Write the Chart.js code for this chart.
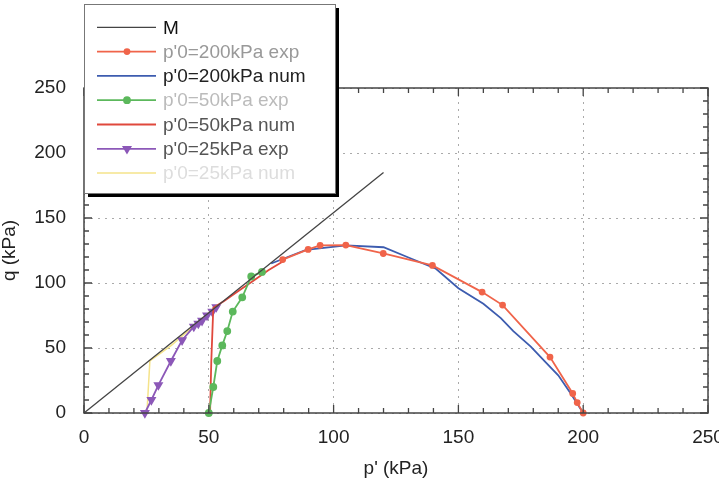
<!DOCTYPE html>
<html>
<head>
<meta charset="utf-8">
<script src="https://cdn.jsdelivr.net/npm/chart.js@4/dist/chart.umd.min.js"></script>
<style>
  body { margin: 0; background: #fff; }
  #wrap { width: 719px; height: 480px; }
</style>
</head>
<body>
<div id="wrap"><canvas id="c"></canvas></div>
<script>
// critical state line
const mP = [0, 120];
const mQ = [0, 185];

// p'0 = 200 kPa
const exp200P = [200, 197.6, 195.8, 186.7, 167.7, 159.5, 139.6, 119.9, 104.9, 94.6, 89.8, 79.6];
const exp200Q = [0, 8, 15, 43, 83, 93, 113.5, 122.7, 129.2, 129, 125.8, 118];
const num200P = [200, 195, 190, 185, 179, 172, 167, 160, 150, 141, 130, 120, 105, 89, 75];
const num200Q = [0, 15, 29, 39, 51, 63, 73, 84, 96, 111, 119.6, 127.5, 129, 125.5, 115];

// p'0 = 50 kPa
const exp50P = [50, 51.8, 53.4, 55.4, 57.4, 59.6, 63.4, 67, 71.3];
const exp50Q = [0, 20, 40, 52, 63, 78, 89, 105, 108.5];
const num50P = [50.5, 51, 51.8, 56, 62, 68, 74, 80];
const num50Q = [0, 40, 81, 86, 94, 102, 110, 117];

// p'0 = 25 kPa
const exp25P = [24.4, 27, 29.8, 34.8, 39.3, 44, 45.8, 47.3, 49.3, 51.4, 53];
const exp25Q = [0, 10, 21.5, 40, 56, 66.5, 68.8, 71, 75, 78, 81.5];
const num25P = [25.2, 26.4, 35, 44, 53];
const num25Q = [0, 40, 52, 67, 82.5];

const xTicks = [0, 50, 100, 150, 200, 250];
const yTicks = [0, 50, 100, 150, 200, 250];

const legendColors = ['#111', '#999', '#222', '#bbb', '#555', '#555', '#ddd'];

function pts(px, py) { return px.map((v, i) => ({ x: v, y: py[i] })); }

const FONT = 'Liberation Sans, Arial, sans-serif';
const FSIZE = 19;

const datasets = [
  { label: 'M', data: pts(mP, mQ), borderColor: '#444', borderWidth: 1.3, pointRadius: 0 },
  { label: "p'0=200kPa exp", data: pts(exp200P, exp200Q), borderColor: '#f0644a', backgroundColor: '#f0644a',
    borderWidth: 1.8, pointRadius: 2.5, pointStyle: 'circle' },
  { label: "p'0=200kPa num", data: pts(num200P, num200Q), borderColor: '#3d5caf', borderWidth: 1.8, pointRadius: 0 },
  { label: "p'0=50kPa exp", data: pts(exp50P, exp50Q), borderColor: '#5cb85c', backgroundColor: '#5cb85c',
    borderWidth: 1.8, pointRadius: 3, pointStyle: 'circle' },
  { label: "p'0=50kPa num", data: pts(num50P, num50Q), borderColor: '#e0483c', borderWidth: 1.8, pointRadius: 0 },
  { label: "p'0=25kPa exp", data: pts(exp25P, exp25Q), borderColor: '#8c58b8', backgroundColor: '#8c58b8',
    borderWidth: 1.8, pointRadius: 4, pointStyle: 'triangle', rotation: 180 },
  { label: "p'0=25kPa num", data: pts(num25P, num25Q), borderColor: '#f5e38a', borderWidth: 1.5, pointRadius: 0 }
];
datasets.forEach(d => { d.showLine = true; d.tension = 0; d.fill = false; d.clip = false; });

// frame, inward ticks on every side, minor ticks, boxed legend
const framePlugin = {
  id: 'frame',
  afterDatasetsDraw(chart) {
    const { ctx, chartArea: a, scales } = chart;
    ctx.save();
    ctx.strokeStyle = '#444';
    ctx.lineWidth = 1.3;
    for (let v = 0; v <= 250; v += 10) {
      const len = v % 50 === 0 ? 8 : 5;
      const x = scales.x.getPixelForValue(v);
      ctx.beginPath();
      ctx.moveTo(x, a.bottom); ctx.lineTo(x, a.bottom - len);
      ctx.moveTo(x, a.top); ctx.lineTo(x, a.top + len);
      const y = scales.y.getPixelForValue(v);
      ctx.moveTo(a.left, y); ctx.lineTo(a.left + len, y);
      ctx.moveTo(a.right, y); ctx.lineTo(a.right - len, y);
      ctx.stroke();
    }
    ctx.lineWidth = 1.5;
    ctx.strokeRect(a.left, a.top, a.right - a.left, a.bottom - a.top);
    ctx.restore();
  },
  afterDraw(chart) {
    const ctx = chart.ctx;
    const bx = 84, by = 4, bw = 251, bh = 189;
    ctx.save();
    ctx.fillStyle = '#000';
    ctx.fillRect(bx + 4, by + 4, bw, bh);
    ctx.fillStyle = '#fff';
    ctx.fillRect(bx, by, bw, bh);
    ctx.strokeStyle = '#777';
    ctx.lineWidth = 1;
    ctx.strokeRect(bx + 0.5, by + 0.5, bw, bh);
    ctx.font = FSIZE + 'px ' + FONT;
    ctx.textBaseline = 'middle';
    chart.data.datasets.forEach((d, i) => {
      const y = 27.3 + i * 24.3;
      ctx.strokeStyle = d.borderColor;
      ctx.lineWidth = d.borderWidth;
      ctx.beginPath(); ctx.moveTo(97, y); ctx.lineTo(156, y); ctx.stroke();
      if (d.pointRadius > 0) {
        ctx.fillStyle = d.backgroundColor;
        Chart.helpers.drawPoint(ctx, { pointStyle: d.pointStyle, radius: d.pointRadius, rotation: d.rotation || 0, borderWidth: 1 }, 127, y);
        ctx.fill();
      }
      ctx.fillStyle = legendColors[i];
      ctx.fillText(d.label, 163, y + 1);
    });
    ctx.restore();
  }
};

new Chart(document.getElementById('c'), {
  type: 'scatter',
  data: { datasets },
  plugins: [framePlugin],
  options: {
    responsive: true,
    maintainAspectRatio: false,
    animation: false,
    layout: { padding: { top: 88, right: 11, left: 0, bottom: 0 } },
    plugins: { legend: { display: false }, tooltip: { enabled: false } },
    scales: {
      x: {
        type: 'linear', min: 0, max: 250,
        afterBuildTicks: s => { s.ticks = xTicks.map(v => ({ value: v })); },
        afterFit: s => { s.height = 67; s.paddingRight = 0; s.paddingLeft = 0; },
        grid: { color: '#aaa', lineWidth: 1, drawTicks: false },
        border: { display: false, dash: [2, 5] },
        ticks: { padding: 13, color: '#222', font: { family: FONT, size: FSIZE }, maxRotation: 0 },
        title: { display: true, text: "p' (kPa)", color: '#222', font: { family: FONT, size: FSIZE }, padding: { top: 13, bottom: 0 } }
      },
      y: {
        type: 'linear', min: 0, max: 250,
        afterBuildTicks: s => { s.ticks = yTicks.map(v => ({ value: v })); },
        afterFit: s => { s.width = 84; s.paddingTop = 0; s.paddingBottom = 0; },
        grid: { color: '#aaa', lineWidth: 1, drawTicks: false },
        border: { display: false, dash: [2, 5] },
        ticks: { padding: 18, color: '#222', font: { family: FONT, size: FSIZE } },
        title: { display: true, text: 'q (kPa)', color: '#222', font: { family: FONT, size: FSIZE, lineHeight: 1 }, padding: { top: 0, bottom: 0 } }
      }
    }
  }
});
</script>
</body>
</html>
